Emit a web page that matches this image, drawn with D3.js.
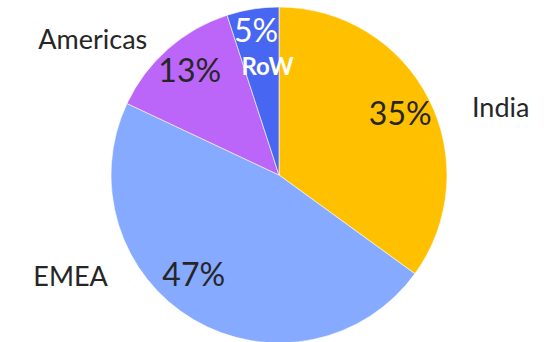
<!DOCTYPE html>
<html>
<head>
<meta charset="utf-8">
<script src="https://cdn.jsdelivr.net/npm/d3@7"></script>
<style>
  body { margin: 0; background: #fff; }
  svg { display: block; font-family: Lato, "Open Sans", sans-serif; }
</style>
</head>
<body>
<div id="chart"></div>
<script>
// data
const regions = ["India", "EMEA", "Americas", "RoW"]
const shares = [35, 47, 13, 5]
const colors = ["#FFC000", "#85AAFF", "#BB66F8", "#4766F2"]

// where the category names sit (angle in degrees from 12 o'clock, radius factor)
const nameSpots = {
  India: { angle: 73, r: 1.38 },
  EMEA: { angle: 244, r: 1.38 },
  Americas: { angle: 306, r: 1.37 },
  RoW: { angle: 354, r: 0.65 }
}
// nudges for the percentage labels (extra degrees, radius factor)
const pctSpots = {
  India: { turn: 0, r: 0.81 },
  EMEA: { turn: 10, r: 0.78 },
  Americas: { turn: 1, r: 0.82 },
  RoW: { turn: 0, r: 0.87 }
}

const width = 559, height = 342
const cx = 279, cy = 175, radius = 168

const data = regions.map((r, i) => ({ label: r, value: shares[i], color: colors[i] }))

const svg = d3.select("#chart").append("svg")
  .attr("width", width)
  .attr("height", height)

const g = svg.append("g")
  .attr("transform", "translate(" + cx + "," + cy + ")")

const pie = d3.pie()
  .sort(null)
  .value(d => d.value)

const arc = d3.arc()
  .innerRadius(0)
  .outerRadius(radius)

const arcs = pie(data)

g.append("g").attr("class", "slices")
  .selectAll("path")
  .data(arcs)
  .join("path")
    .attr("d", arc)
    .attr("fill", d => d.data.color)
    .attr("stroke", "#fff")
    .attr("stroke-width", 0.6)

function polar(angleDeg, r) {
  const a = angleDeg * Math.PI / 180
  return [Math.sin(a) * r, -Math.cos(a) * r]
}

function midAngleDeg(d) {
  return (d.startAngle + d.endAngle) / 2 * 180 / Math.PI
}

// percentage labels
g.append("g").attr("class", "pct")
  .selectAll("text")
  .data(arcs)
  .join("text")
    .attr("transform", d => {
      const s = pctSpots[d.data.label]
      const p = polar(midAngleDeg(d) + s.turn, radius * s.r)
      return "translate(" + p + ")"
    })
    .attr("text-anchor", "middle")
    .attr("dy", "0.36em")
    .attr("font-size", 32)
    .attr("fill", d => d.data.label === "RoW" ? "#fff" : "#262626")
    .text(d => d.data.value + "%")

// category labels
g.append("g").attr("class", "names")
  .selectAll("text")
  .data(arcs)
  .join("text")
    .attr("transform", d => {
      const s = nameSpots[d.data.label]
      const p = polar(s.angle, radius * s.r)
      return "translate(" + p + ")"
    })
    .attr("text-anchor", "middle")
    .attr("dy", "0.36em")
    .attr("font-size", d => d.data.label === "RoW" ? 24 : 27)
    .attr("font-weight", d => d.data.label === "RoW" ? "bold" : "normal")
    .attr("fill", d => d.data.label === "RoW" ? "#fff" : "#262626")
    .text(d => d.data.label)
</script>
</body>
</html>
